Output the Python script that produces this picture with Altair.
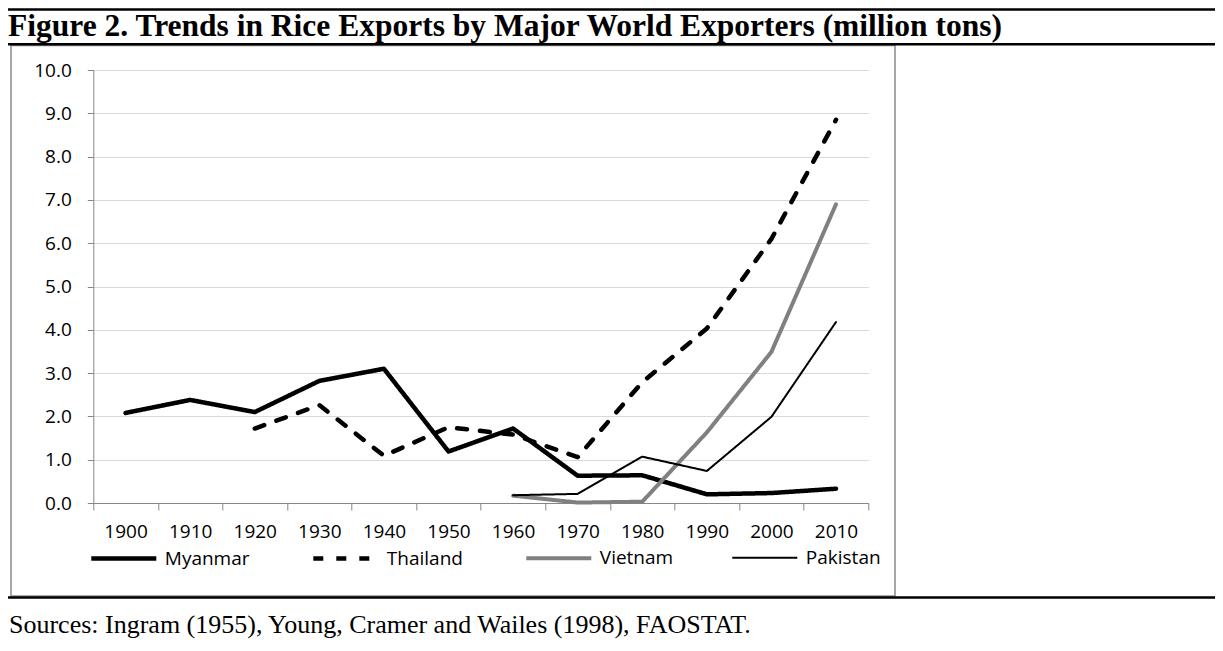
import altair as alt
import pandas as pd

years = ["1900", "1910", "1920", "1930", "1940", "1950",
         "1960", "1970", "1980", "1990", "2000", "2010"]
series = ["Myanmar", "Thailand", "Vietnam", "Pakistan"]
myanmar = [2.08, 2.38, 2.10, 2.82, 3.10, 1.19, 1.72, 0.63, 0.64, 0.20, 0.23, 0.33]
thailand = [None, None, 1.72, 2.26, 1.09, 1.75, 1.58, 1.06, 2.79, 4.03, 6.10, 8.85]
vietnam = [None, None, None, None, None, None, 0.17, 0.01, 0.03, 1.63, 3.49, 6.90]
pakistan = [None, None, None, None, None, None, 0.18, 0.21, 1.07, 0.74, 1.99, 4.18]
y_ticks = [0, 1, 2, 3, 4, 5, 6, 7, 8, 9, 10]

title_text = "Figure 2. Trends in Rice Exports by Major World Exporters (million tons)"
source_text = "Sources: Ingram (1955), Young, Cramer and Wailes (1998), FAOSTAT."

rows = []
for name, vals in zip(series, [myanmar, thailand, vietnam, pakistan]):
    for yr, v in zip(years, vals):
        if v is not None:
            rows.append({"year": yr, "series": name, "value": v})
df = pd.DataFrame(rows)

colors = ["#000000", "#000000", "#808080", "#000000"]
widths = [4.5, 4.5, 4.0, 2.0]
dashes = [[1, 0], [10, 13], [1, 0], [1, 0]]

FONT = "Open Sans"
W, H = 775, 433
OX, OY = 93.3, 70.0          # page position of the plot origin
PAD_L, PAD_T = OX - 8, OY - 8
SVG_W, SVG_H = 1207, 635

leg = alt.Legend(
    orient="none", legendX=-4.5, legendY=558 - OY - 34.5, direction="horizontal", columns=4,
    title=None, symbolType="stroke", symbolSize=4225, labelFont=FONT,
    labelFontSize=19, labelColor="#000000", labelOffset=6, columnPadding=54,
    padding=0,
)

lines = alt.Chart(df).mark_line(strokeCap="round", strokeJoin="round").encode(
    x=alt.X("year:O", sort=years, bandPosition=0.5,
            scale=alt.Scale(type="band", domain=years, paddingInner=0, paddingOuter=0),
            axis=alt.Axis(title=None, labelAngle=0, tickBand="extent", grid=False,
                          domainColor="#868686", tickColor="#868686", tickSize=7,
                          labelFont=FONT, labelFontSize=19, labelColor="#000000",
                          labelPadding=12)),
    y=alt.Y("value:Q", scale=alt.Scale(domain=[0, 10], nice=False),
            axis=alt.Axis(title=None, values=y_ticks, format=".1f",
                          domainColor="#868686", tickColor="#868686", tickSize=6,
                          gridColor="#d9d9d9", gridWidth=1,
                          labelFont=FONT, labelFontSize=19, labelColor="#000000",
                          labelPadding=16)),
    color=alt.Color("series:N", sort=series,
                    scale=alt.Scale(domain=series, range=colors), legend=leg),
    strokeDash=alt.StrokeDash("series:N", sort=series,
                              scale=alt.Scale(domain=series, range=dashes), legend=leg),
    strokeWidth=alt.StrokeWidth("series:N", sort=series,
                                scale=alt.Scale(type="ordinal", domain=series, range=widths),
                                legend=leg),
)

one = pd.DataFrame({"t": [title_text], "s": [source_text]})

box = alt.Chart(one).mark_rect(fill="transparent", stroke="#8a8a8a", strokeWidth=1.5).encode(
    x=alt.value(11 - OX), x2=alt.value(895 - OX),
    y=alt.value(45.5 - OY), y2=alt.value(596 - OY))

def hrule(page_y):
    return alt.Chart(one).mark_rule(color="#000000", strokeWidth=2.5).encode(
        x=alt.value(-PAD_L), x2=alt.value(SVG_W - PAD_L),
        y=alt.value(page_y - OY))

title = alt.Chart(one).mark_text(
    align="left", baseline="middle", font="Liberation Serif", fontWeight="bold",
    fontSize=31.5, color="#000000").encode(
    text="t:N", x=alt.value(8 - OX), y=alt.value(27 - OY))

source = alt.Chart(one).mark_text(
    align="left", baseline="middle", font="Liberation Serif",
    fontSize=26, color="#000000").encode(
    text="s:N", x=alt.value(9 - OX), y=alt.value(625 - OY))

chart = alt.layer(box, hrule(9.5), hrule(44.3), hrule(597.5), lines, title, source).properties(
    width=W, height=H,
    autosize=alt.AutoSizeParams(type="none"),
    padding={"left": PAD_L, "top": PAD_T, "right": SVG_W - PAD_L - W, "bottom": SVG_H - PAD_T - H},
).configure_view(stroke=None)

chart.save("out.html", embed_options={"renderer": "svg", "actions": False})
